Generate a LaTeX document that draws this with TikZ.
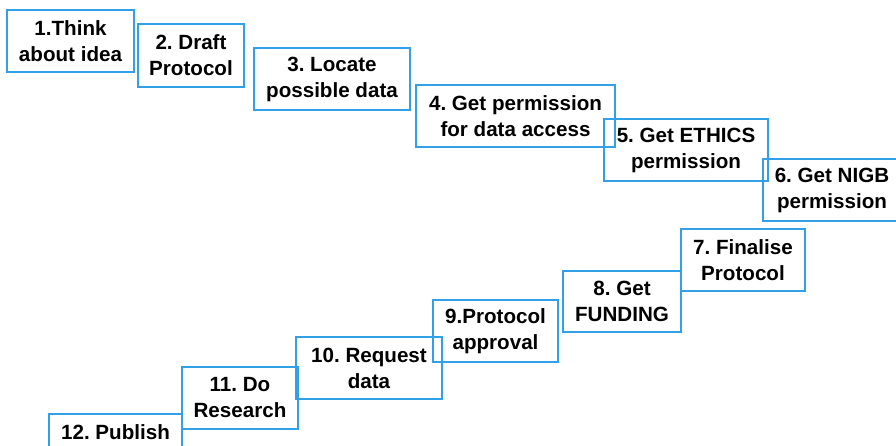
\documentclass[tikz,border=0pt]{standalone}
\usepackage{fontspec}
\setmainfont{Liberation Sans}
\frenchspacing
\definecolor{boxblue}{RGB}{50,160,232}
\tikzset{
  stepbox/.style={draw=boxblue, line width=1.2pt, rectangle, inner sep=0pt,
    align=center, text=black, font=\fontsize{20.6}{26}\selectfont\bfseries\frenchspacing}
}
\begin{document}
\begin{tikzpicture}[x=1pt,y=-1pt]
\useasboundingbox (0,0) rectangle (896,446);
\node[stepbox, minimum width=127pt, minimum height=62pt] (s1) at (70.5,41) {1.Think\\about idea};
\node[stepbox, minimum width=106pt, minimum height=63pt] (s2) at (191,55.5) {2. Draft\\Protocol};
\node[stepbox, minimum width=156pt, minimum height=62pt] (s3) at (332,79) {3. Locate\\possible data};
\node[stepbox, minimum width=199pt, minimum height=62pt] (s4) at (515.5,116) {4. Get permission\\for data access};
\node[stepbox, minimum width=164pt, minimum height=62pt] (s5) at (686,150) {5. Get ETHICS\\permission};
\node[stepbox, minimum width=138pt, minimum height=62pt] (s6) at (832,190) {6. Get NIGB\\permission};
\node[stepbox, minimum width=124pt, minimum height=62pt] (s7) at (743,260) {7. Finalise\\Protocol};
\node[stepbox, minimum width=118pt, minimum height=61pt] (s8) at (622,301.5) {8. Get\\FUNDING};
\node[stepbox, minimum width=125pt, minimum height=62pt] (s9) at (495.5,331) {9.Protocol\\approval};
\node[stepbox, minimum width=146pt, minimum height=62pt] (s10) at (369,368) {10. Request\\data};
\node[stepbox, minimum width=116pt, minimum height=62pt] (s11) at (240,398) {11. Do\\Research};
\node[stepbox, minimum width=133pt, minimum height=62pt] (s12) at (115.5,445) {12. Publish\\\vphantom{Publish}};
\end{tikzpicture}
\end{document}
